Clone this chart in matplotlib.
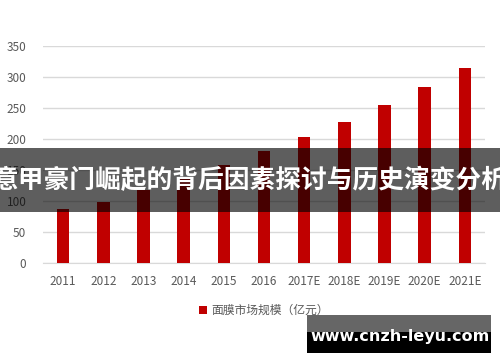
import matplotlib
matplotlib.use('Agg')
import matplotlib.pyplot as plt
from matplotlib.patches import Rectangle

plt.rcParams['font.family'] = ['Noto Sans CJK SC', 'DejaVu Sans']

years = ['2011', '2012', '2013', '2014', '2015', '2016',
         '2017E', '2018E', '2019E', '2020E', '2021E']
market_size = [87, 99, 118, 135, 158, 180, 203, 228, 255, 284, 315]
series_name = '面膜市场规模（亿元）'
banner_title = '意甲豪门崛起的背后因素探讨与历史演变分析'
watermark = 'www.cnzh-leyu.com'

fig = plt.figure(figsize=(5, 3.62), dpi=100)
ax = fig.add_axes([0.086, 0.2735, 0.884, 0.5995])

x = range(len(years))
ax.bar(x, market_size, width=0.31, color='#C00000', label=series_name, zorder=3)

ax.set_xlim(-0.5, len(years) - 0.5)
ax.set_ylim(0, 350)
ax.set_yticks(range(0, 351, 50))
ax.set_xticks(list(x))
ax.set_xticklabels(years)
ax.grid(axis='y', color='#d9d9d9', linewidth=1, zorder=0)
for s in ['top', 'right', 'left']:
    ax.spines[s].set_visible(False)
ax.spines['bottom'].set_color('#d9d9d9')
ax.tick_params(length=0, labelsize=8.5, colors='#595959', pad=9)
ax.tick_params(axis='y', pad=12)

ax.legend(loc='upper center', bbox_to_anchor=(0.5, -0.14), frameon=False,
          fontsize=8.5, handlelength=0.7, handleheight=0.7, handletextpad=0.4,
          labelcolor='#595959')

# dark banner across the middle
fig.add_artist(Rectangle((0, 1 - 212 / 362), 1, 64 / 362, transform=fig.transFigure,
                         facecolor='black', alpha=0.63, edgecolor='none', zorder=10))
fig.text(0.5, 1 - 181 / 362, banner_title, color='white', fontsize=18.5, fontweight='bold',
         ha='center', va='center', zorder=11)

# watermark box
fig.add_artist(Rectangle((307 / 500, 1 - 332 / 362), 184 / 500, 17 / 362,
                         transform=fig.transFigure, facecolor='#666666',
                         edgecolor='none', zorder=10))
fig.add_artist(Rectangle((307 / 500, 1 - 353 / 362), 184 / 500, 21 / 362,
                         transform=fig.transFigure, facecolor='black',
                         edgecolor='none', zorder=10))
fig.text(400 / 500, 1 - 337 / 362, watermark, color='white', fontsize=11.5, fontweight='bold',
         ha='center', va='center', zorder=11, family='DejaVu Sans')

fig.savefig('out.png', dpi=100)
